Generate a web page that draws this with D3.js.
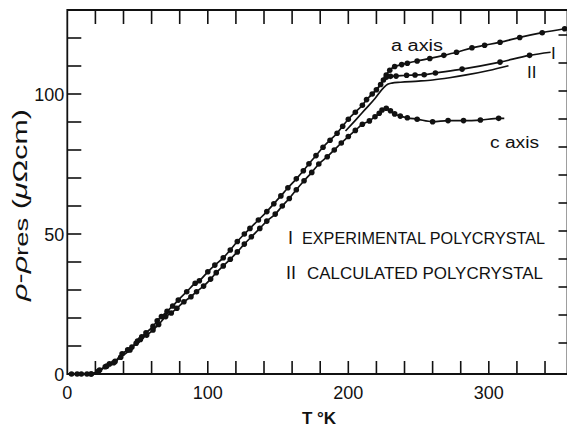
<!DOCTYPE html>
<html>
<head>
<meta charset="utf-8">
<script src="https://cdn.jsdelivr.net/npm/d3@7"></script>
<style>
  html, body { margin: 0; padding: 0; background: #fff; }
  svg { display: block; }
  text { font-family: "Liberation Sans", "DejaVu Sans", sans-serif; fill: #111; }
</style>
</head>
<body>
<svg id="chart" width="567" height="429"></svg>
<script>
// Resistivity (μΩ·cm) above the residual value vs temperature (K)

// a-axis single crystal: measured points
const aAxis = [
  [3,0],[7,0],[10,0],[14,0],[17,0],[23,1.4],[27,2.6],[30,3.6],[34,4.5],[39,7.2],[43,8.6],
  [46,9.6],[50,11.8],[53,13.3],[56,14.7],[61,17],[64,19],[67,20.5],[71,22.4],[75,24.3],
  [79,26.4],[85,29.4],[91,32.4],[94,33.3],[100,36.5],[105,38.9],[111,41.5],[116,44.3],
  [121,47.3],[126,50],[130,52],[136,55],[142,58],[147,60.8],[152,63.6],[157,66.5],
  [163,69.7],[168,72.6],[172,75.1],[177,78],[182,81],[187,83.5],[192,86],[196,88.5],
  [200,91],[205,93.5],[210,96],[213,98],[217,100],[220,101.5],[223,103.4],[225,105],
  [227,106.8],[229.5,108.5],[233,109.8],[238,110.5],[242,111],[249,111.8],[258,112.7],
  [268,113.8],[277,114.9],[288,116.5],[297,117.4],[308,118.5],[322,120.2],[338,121.9],[354,123.3]
];

// c-axis single crystal: measured points, then the line's end
const cAxis = [
  [17,0],[22,1],[28,2.8],[33,4],[38,6],[44.6,8.6],[49,11],[52,12.3],[56.5,13.9],[61,15.7],
  [65,17.7],[70,20.5],[74,21.8],[78,23.5],[83,25.8],[88,27.6],[92,29.4],[97,31.4],
  [102,33.9],[106,36.2],[111,38.6],[116,41],[121,43.6],[126,46.4],[131,49],[137,52],
  [142,54.6],[148,57.1],[153,60],[158,62.7],[163,65.8],[168.5,69],[174,72],[179,75],
  [185,77.6],[190,80],[195,82.5],[200,84.8],[205,87],[210,89.2],[215,90.4],[219,91.9],
  [222,93.1],[224,94.3],[227,94.9],[230,94],[233,92.9],[237,92.1],[242,91.5],[249,91],
  [260,90.1],[271,90.5],[282,90.5],[294,90.7],[307,91.3]
];
const cTail = [[311,91.3]];

// I: experimental polycrystal (branches off the a-axis curve near the kink)
const iLead = [[215,99],[220,101.5],[224,104.2]];
const iPoints = [
  [227,106],[230,106.3],[234,106.4],[241.5,106.7],[247.5,106.8],[254,106.9],
  [262,107.5],[281,108.9],[308,111.4],[329,113.8]
];
const iTail = [[344,114.9]];

// II: calculated polycrystal (plain line)
const iiCurve = [
  [198,86.8],[205,90.6],[212,94.5],[219,98.4],[225,102.2],[228,103.5],[231,103.9],
  [237,104.2],[250,104.6],[260,105],[272,105.8],[284,106.8],[300,108.4],[314,110.1]
];

const xTickValues = d3.range(20, 341, 20);
const xTickLabels = [0, 100, 200, 300];
const yTickValues = d3.range(10, 121, 10);
const yTickLabels = [0, 50, 100];

const svg = d3.select("#chart");
const x = d3.scaleLinear().domain([0, 356]).range([67.3, 567.5]);
const y = d3.scaleLinear().domain([0, 130]).range([374, 10]);

const frame = svg.append("g").attr("stroke", "#111").attr("stroke-width", 1.8).attr("fill", "none");
frame.append("path")
  .attr("d", `M${x(356)},${y(130)}H${x(0)}V${y(0)}H${x(356)}V${y(130)}`);

// ticks, all pointing inward
const ticks = svg.append("g").attr("stroke", "#111").attr("stroke-width", 1.6);
ticks.selectAll(".tb").data(xTickValues).join("line")
  .attr("x1", d => x(d)).attr("x2", d => x(d))
  .attr("y1", y(0)).attr("y2", y(0) - 13);
ticks.selectAll(".tt").data(xTickValues).join("line")
  .attr("x1", d => x(d)).attr("x2", d => x(d))
  .attr("y1", y(130)).attr("y2", y(130) + 14);
ticks.selectAll(".tl").data(yTickValues).join("line")
  .attr("x1", x(0)).attr("x2", x(0) + 14)
  .attr("y1", d => y(d)).attr("y2", d => y(d));
ticks.selectAll(".tr").data(yTickValues).join("line")
  .attr("x1", x(356)).attr("x2", x(356) - 9)
  .attr("y1", d => y(d) - 3).attr("y2", d => y(d) - 3);

// tick labels
svg.append("g").selectAll("text").data(xTickLabels).join("text")
  .attr("x", d => x(d)).attr("y", y(0) + 25)
  .attr("text-anchor", "middle").attr("font-size", 18)
  .text(d => d);
svg.append("g").selectAll("text").data(yTickLabels).join("text")
  .attr("x", x(0) - 3).attr("y", d => y(d) + 7)
  .attr("text-anchor", "end").attr("font-size", 18)
  .text(d => d);

// axis titles
svg.append("text")
  .attr("x", 319).attr("y", 424)
  .attr("text-anchor", "middle").attr("font-size", 17).attr("font-weight", "bold")
  .text("T °K");

const yTitle = svg.append("text")
  .attr("transform", "translate(27,205) rotate(-90)")
  .attr("text-anchor", "middle").attr("font-size", 20)
  .attr("textLength", 192).attr("lengthAdjust", "spacingAndGlyphs");
yTitle.append("tspan").attr("font-style", "italic").text("ρ");
yTitle.append("tspan").text("-");
yTitle.append("tspan").attr("font-style", "italic").text("ρ");
yTitle.append("tspan").attr("font-size", 18).attr("dy", 1).text("res");
yTitle.append("tspan").attr("dy", -1).text(" (");
yTitle.append("tspan").attr("font-style", "italic").text("μ");
yTitle.append("tspan").text("Ωcm)");

// curves
const line = d3.line().x(d => x(d[0])).y(d => y(d[1])).curve(d3.curveMonotoneX);
const curves = svg.append("g").attr("fill", "none").attr("stroke", "#111").attr("stroke-width", 1.7);
curves.append("path").attr("d", line(aAxis));
curves.append("path").attr("d", line(cAxis.concat(cTail)));
curves.append("path").attr("d", line(iLead.concat(iPoints, iTail)));
curves.append("path").attr("d", line(iiCurve));

// data points
const dots = svg.append("g").attr("fill", "#111");
[aAxis, cAxis, iPoints].forEach(series => {
  dots.append("g").selectAll("circle").data(series).join("circle")
    .attr("cx", d => x(d[0])).attr("cy", d => y(d[1])).attr("r", 2.8);
});

// curve labels
svg.append("text").attr("x", 391).attr("y", 51).attr("font-size", 16)
  .attr("textLength", 52).attr("lengthAdjust", "spacingAndGlyphs").text("a  axis");
svg.append("text").attr("x", 490).attr("y", 148).attr("font-size", 16)
  .attr("textLength", 49).attr("lengthAdjust", "spacingAndGlyphs").text("c  axis");
svg.append("text").attr("x", 551).attr("y", 59).attr("font-size", 17)
  .attr("font-family", "Liberation Serif, serif").text("I");
svg.append("text").attr("x", 527).attr("y", 78).attr("font-size", 17)
  .attr("font-family", "Liberation Serif, serif").text("II");

// legend
const legend = [
  { num: "I", text: "EXPERIMENTAL  POLYCRYSTAL", y: 244, nx: 288, tx: 302, width: 243 },
  { num: "II", text: "CALCULATED  POLYCRYSTAL", y: 279, nx: 286, tx: 307, width: 236 }
];
legend.forEach(l => {
  svg.append("text").attr("x", l.nx).attr("y", l.y)
    .attr("font-family", "Liberation Serif, serif").attr("font-size", 18).text(l.num);
  svg.append("text").attr("x", l.tx).attr("y", l.y)
    .attr("font-size", 17).attr("textLength", l.width)
    .attr("lengthAdjust", "spacingAndGlyphs").text(l.text);
});
</script>
</body>
</html>
